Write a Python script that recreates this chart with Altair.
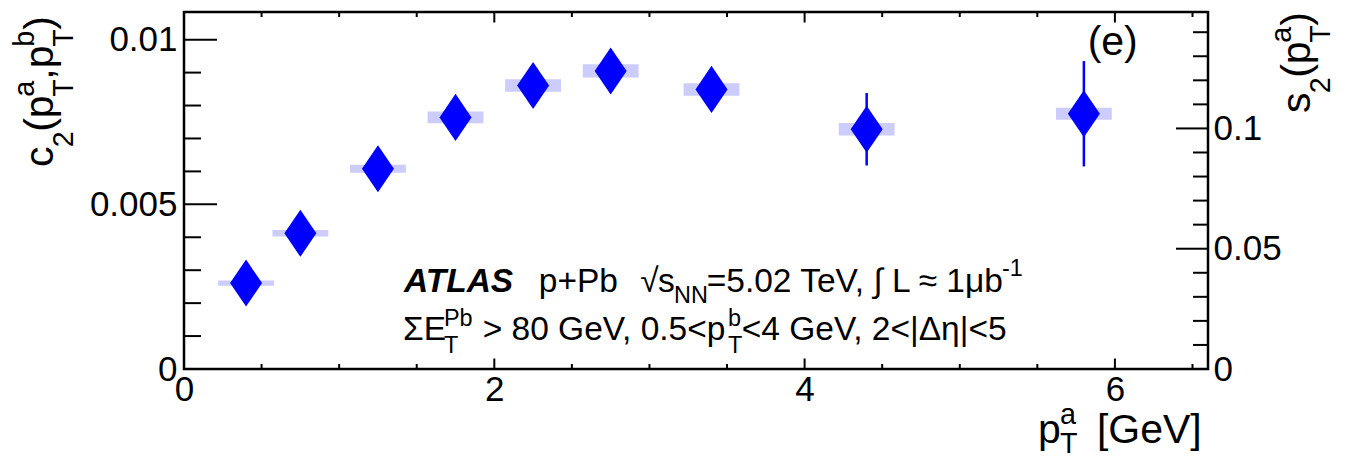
import altair as alt
import pandas as pd

# ---------------- data ----------------
pt_a = [0.4, 0.75, 1.25, 1.75, 2.25, 2.75, 3.4, 4.4, 5.8]
c2_vals = [0.00261, 0.00412, 0.00608, 0.00764, 0.00861, 0.00905, 0.00849, 0.00728, 0.00775]
stat_err = [0.00005, 0.00006, 0.00008, 0.0001, 0.00012, 0.00015, 0.0002, 0.0011, 0.0016]
syst_err = [0.00008, 0.0001, 0.00012, 0.000175, 0.00019, 0.0002, 0.00019, 0.00019, 0.00018]
box_halfwidth = 0.18

left_major = [0, 0.005, 0.01]
left_minor = [0.001, 0.002, 0.003, 0.004, 0.006, 0.007, 0.008, 0.009]
right_major = [0, 0.05, 0.1]
right_minor = [0.01, 0.02, 0.03, 0.04, 0.06, 0.07, 0.08, 0.09, 0.11, 0.12, 0.13, 0.14]
x_major = [0, 2, 4, 6]
x_minor = [0.5, 1, 1.5, 2.5, 3, 3.5, 4.5, 5, 5.5, 6.5]

# ---------------- geometry ----------------
PADL, PADT = 184, 12
W, H = 1024, 357
FONT = "Liberation Sans"
BLUE = "#0000ff"
LABEL_SIZE = 35

xs = alt.Scale(domain=[0, 6.6], nice=False, zero=False)
ys = alt.Scale(domain=[0, 0.01084], nice=False, zero=False)
rs = alt.Scale(domain=[0, 0.1484], nice=False, zero=False)

xaxis = alt.Axis(values=x_major, format="d", title=None, labelFlush=False, labelPadding=3,
                 labelFontSize=LABEL_SIZE, ticks=False, tickSize=0, domain=False, grid=False,
                 labelFont=FONT, labelColor="black", labelOverlap=False)
yaxis = alt.Axis(values=left_major, format="~g", title=None, labelPadding=7,
                 labelFontSize=LABEL_SIZE, ticks=False, tickSize=0, domain=False, grid=False,
                 labelFont=FONT, labelColor="black", labelOverlap=False)
raxis = alt.Axis(values=right_major, format="~g", title=None, orient="right", labelPadding=5,
                 labelFontSize=LABEL_SIZE, ticks=False, tickSize=0, domain=False, grid=False,
                 labelFont=FONT, labelColor="black", labelOverlap=False)

df = pd.DataFrame({"pt": pt_a, "c2": c2_vals, "stat": stat_err, "syst": syst_err})
df["x_lo"] = df.pt - box_halfwidth
df["x_hi"] = df.pt + box_halfwidth
df["s_lo"] = df.c2 - df.syst
df["s_hi"] = df.c2 + df.syst
df["e_lo"] = df.c2 - df.stat
df["e_hi"] = df.c2 + df.stat

rect = alt.Chart(df).mark_rect(color="#ccccff").encode(
    x=alt.X("x_lo:Q", scale=xs, axis=xaxis), x2="x_hi:Q",
    y=alt.Y("s_lo:Q", scale=ys, axis=yaxis), y2="s_hi:Q")
err = alt.Chart(df).mark_rule(color=BLUE, strokeWidth=2.5).encode(
    x=alt.X("pt:Q", scale=xs, axis=xaxis),
    y=alt.Y("e_lo:Q", scale=ys, axis=yaxis), y2="e_hi:Q")
pts = alt.Chart(df).mark_point(shape="M0,-1.47L1,0L0,1.47L-1,0Z", filled=True, size=1024,
                               color=BLUE, opacity=1, strokeWidth=0).encode(
    x=alt.X("pt:Q", scale=xs, axis=xaxis),
    y=alt.Y("c2:Q", scale=ys, axis=yaxis))


def yticks(vals, length):
    return alt.Chart(pd.DataFrame({"v": vals})).mark_rule(color="black", strokeWidth=2).encode(
        y=alt.Y("v:Q", scale=ys, axis=yaxis), x=alt.value(0), x2=alt.value(length))


def xticks(vals, y0, y1):
    return alt.Chart(pd.DataFrame({"v": vals})).mark_rule(color="black", strokeWidth=2).encode(
        x=alt.X("v:Q", scale=xs, axis=xaxis), y=alt.value(y0), y2=alt.value(y1))


def rticks(vals, length):
    return alt.Chart(pd.DataFrame({"v": vals})).mark_rule(color="black", strokeWidth=2).encode(
        y=alt.Y("v:Q", scale=rs, axis=raxis), x=alt.value(W), x2=alt.value(W - length))


# ---------------- rich-text layout helper ----------------
WID = {' ': 278, '(': 333, ')': 333, '+': 584, ',': 278, '-': 333, '.': 278, '<': 584, '=': 584,
       '>': 584, '[': 278, ']': 278, '|': 260, 'A': 667, 'E': 667, 'G': 778, 'L': 556, 'N': 722,
       'P': 667, 'S': 667, 'T': 611, 'V': 667, 'a': 556, 'b': 556, 'c': 500, 'e': 556, 'p': 556,
       's': 500, 'μ': 576, '≈': 584, 'Σ': 600, 'Δ': 668, 'η': 556, '∫': 274, '√': 549}
WID_BI = {'A': 722, 'T': 611, 'L': 611, 'S': 667}
K = 0.965  # rendered width correction


def tw(s, size, bold=False):
    tab = WID_BI if bold else {}
    return K * sum(tab.get(ch, WID.get(ch, 556)) for ch in s) / 1000.0 * size


def layout(runs, x0, y0, base, vertical=False, sub_drop=0.48, sup_rise=0.47):
    pieces, cur = [], 0.0
    for r in runs:
        if r[0] == "n":
            bold = len(r) > 2 and r[2] == "bi"
            pieces.append((r[1], cur, 0.0, base, bold))
            cur += tw(r[1], base, bold)
        elif r[0] == "ss":
            size = 0.7 * base
            adv = 0.0
            if r[1]:
                pieces.append((r[1], cur, -sup_rise * base, size, False))
                adv = max(adv, tw(r[1], size))
            if r[2]:
                pieces.append((r[2], cur, sub_drop * base, size, False))
                adv = max(adv, tw(r[2], size))
            cur += adv
        elif r[0] == "gap":
            cur += r[1]
    layers = []
    for s, along, perp, size, bold in pieces:
        if vertical:
            x, y = x0 + perp, y0 - along
        else:
            x, y = x0 + along, y0 + perp
        kw = dict(font=FONT, fontSize=size, align="left", baseline="alphabetic", color="black")
        if bold:
            kw.update(fontWeight="bold", fontStyle="italic")
        if vertical:
            kw.update(angle=270)
        layers.append(alt.Chart(pd.DataFrame({"t": [s]})).mark_text(**kw).encode(
            text="t:N", x=alt.value(x - PADL), y=alt.value(y - PADT)))
    return layers


TS = 41   # axis-title size
AS = 33.5  # annotation size
texts = []
texts += layout([("n", "c"), ("ss", None, "2"), ("n", "(p"), ("ss", "a", "T"), ("n", ",p"),
                 ("ss", "b", "T"), ("n", ")")], 53, 167, TS, vertical=True)
texts += layout([("n", "s"), ("ss", None, "2"), ("n", "(p"), ("ss", "a", "T"), ("n", ")")],
                1310, 113, TS, vertical=True)
texts += layout([("n", "p"), ("ss", "a", "T"), ("gap", 20), ("n", "[GeV]")], 1038, 443, TS,
                sub_drop=0.25)
texts += layout([("n", "ATLAS", "bi"), ("gap", 27), ("n", "p+Pb"), ("gap", 25), ("n", "√"),
                 ("n", "s"), ("ss", None, "NN"), ("n", "=5.02 TeV, ∫ L ≈ 1μb"), ("ss", "-1", None)],
                404, 292, AS, sub_drop=0.33)
texts += layout([("n", "ΣE"), ("ss", "Pb", "T"), ("gap", 11), ("n", "> 80 GeV, 0.5<p"),
                 ("gap", 8), ("ss", "b", "T"), ("n", "<4 GeV, 2<|Δη|<5")], 403, 340, AS,
                sub_drop=0.4, sup_rise=0.42)
texts += layout([("n", "(e)")], 1136 - tw("(e)", TS), 55, TS)

inner = alt.layer(
    rect, err, pts,
    yticks(left_major, 33), yticks(left_minor, 17),
    xticks(x_major, H, H - 10.5), xticks(x_minor, H, H - 5),
    xticks(x_major, 0, 10.5), xticks(x_minor, 0, 5),
    *texts,
)
right = alt.layer(rticks(right_major, 32), rticks(right_minor, 15))

chart = alt.layer(inner, right).resolve_scale(y="independent").properties(
    width=W, height=H,
    padding={"left": PADL, "top": PADT, "right": 1348 - PADL - W, "bottom": 458 - PADT - H},
    autosize=alt.AutoSizeParams(type="none"),
).configure_view(stroke="black", strokeWidth=2.5, fill="white")

chart.save("out.html", embed_options={"renderer": "svg", "actions": False})
